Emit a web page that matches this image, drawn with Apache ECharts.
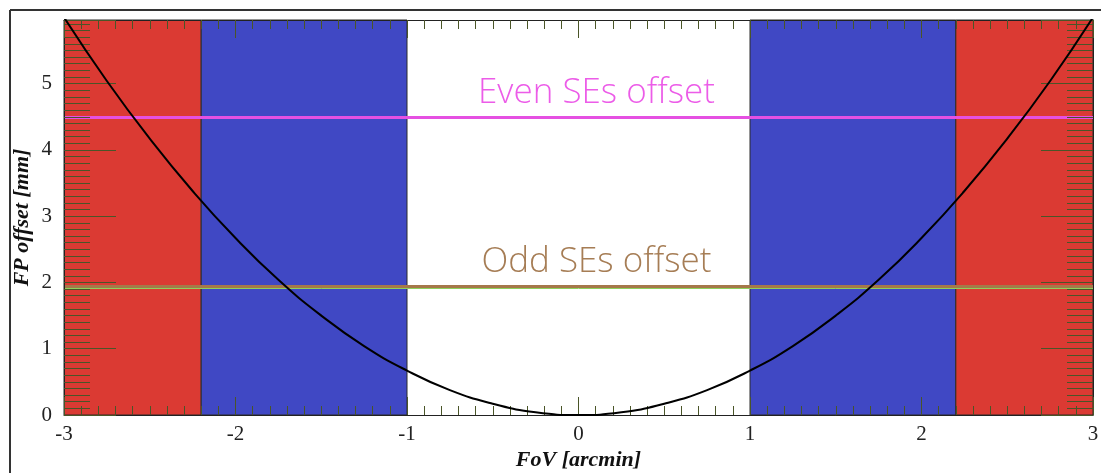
<!DOCTYPE html>
<html>
<head>
<meta charset="utf-8">
<script src="https://cdn.jsdelivr.net/npm/echarts@6/dist/echarts.min.js"></script>
<style>
  html, body { margin: 0; padding: 0; background: #fff; }
  #chart { width: 1101px; height: 473px; }
</style>
</head>
<body>
<div id="chart"></div>
<script>
// Field of view position [arcmin] and focal-plane offset [mm]
const fovX = [-3, -2.75, -2.5, -2.25, -2, -1.75, -1.5, -1.25, -1, -0.75, -0.5, -0.25, 0,
              0.25, 0.5, 0.75, 1, 1.25, 1.5, 1.75, 2, 2.25, 2.5, 2.75, 3];
const fpOffset = [6.0, 5.04, 4.17, 3.38, 2.67, 2.04, 1.5, 1.04, 0.67, 0.375, 0.17, 0.04, 0,
                  0.04, 0.17, 0.375, 0.67, 1.04, 1.5, 2.04, 2.67, 3.38, 4.17, 5.04, 6.0];

// FoV zones: [from, to, kind]
const zones = [
  [-3, -2.2, 'outer'],
  [-2.2, -1, 'inner'],
  [1, 2.2, 'inner'],
  [2.2, 3, 'outer']
];

// Offset levels [mm]
const evenOffset = 4.5;
const oddOffset = 1.95;
const oddOffsetLower = 1.92;
const evenLabel = 'Even SEs offset';
const oddLabel = 'Odd SEs offset';

// Axis ticks
const xTicks = [-3, -2, -1, 0, 1, 2, 3];
const yTicks = [0, 1, 2, 3, 4, 5];

const zoneColor = { outer: '#db3a33', inner: '#4048c4' };
const tickColor = '#4a5528';
const serif = '"Liberation Serif", "DejaVu Serif", serif';

const chart = echarts.init(document.getElementById('chart'), null, { renderer: 'canvas' });

function xAxisDef(pos, showLabels) {
  return {
    type: 'value', position: pos, min: -3, max: 3, interval: 1, z: 10,
    axisLine: { show: true, onZero: false, lineStyle: { color: '#222', width: 1 } },
    axisTick: { show: true, inside: true, length: 18, lineStyle: { color: tickColor, width: 1 } },
    minorTick: { show: true, splitNumber: 10, length: 9, lineStyle: { color: tickColor, width: 1 } },
    splitLine: { show: false },
    axisLabel: {
      show: showLabels, margin: 9, color: '#222', fontFamily: serif, fontSize: 21,
      formatter: v => xTicks.includes(v) ? String(v) : ''
    },
    name: showLabels ? 'FoV [arcmin]' : '',
    nameLocation: 'middle', nameGap: 34, nameMoveOverlap: false,
    nameTextStyle: { fontFamily: serif, fontStyle: 'italic', fontWeight: 'bold', fontSize: 22, color: '#111' }
  };
}

function yAxisDef(pos, showLabels) {
  return {
    type: 'value', position: pos, min: 0, max: 5.96, interval: 1, z: 10,
    axisLine: { show: true, onZero: false, lineStyle: { color: '#222', width: 1 } },
    axisTick: { show: true, inside: true, length: 52, lineStyle: { color: tickColor, width: 1 } },
    minorTick: { show: true, splitNumber: 10, length: 26, lineStyle: { color: tickColor, width: 1 } },
    splitLine: { show: false },
    axisLabel: {
      show: showLabels, margin: 12, color: '#222', fontFamily: serif, fontSize: 21,
      formatter: v => yTicks.includes(v) ? String(v) : ''
    },
    name: showLabels ? 'FP offset [mm]' : '',
    nameLocation: 'middle', nameGap: 31, nameRotate: 90, nameMoveOverlap: false,
    nameTextStyle: { fontFamily: serif, fontStyle: 'italic', fontWeight: 'bold', fontSize: 22, color: '#111' }
  };
}

const labelFont = { fontFamily: '"Open Sans", Lato, sans-serif', fontWeight: 300, fontSize: 35 };

chart.setOption({
  animation: false,
  backgroundColor: '#fff',
  grid: { left: 64, right: 8, top: 20, bottom: 58, containLabel: false, outerBoundsMode: 'none' },
  xAxis: [xAxisDef('bottom', true), xAxisDef('top', false)],
  yAxis: [yAxisDef('left', true), yAxisDef('right', false)],
  graphic: [
    { type: 'line', shape: { x1: 10, y1: 10, x2: 1101, y2: 10 }, style: { stroke: '#333', lineWidth: 2 }, z: 100 },
    { type: 'line', shape: { x1: 10, y1: 10, x2: 10, y2: 473 }, style: { stroke: '#333', lineWidth: 2 }, z: 100 }
  ],
  series: [
    {
      name: 'zones', type: 'line', data: [], z: 1,
      markArea: {
        silent: true,
        data: zones.map(([a, b, kind]) => [
          { xAxis: a, itemStyle: { color: zoneColor[kind], borderColor: '#2a2a2a', borderWidth: 1 } },
          { xAxis: b }
        ])
      }
    },
    {
      name: 'levels', type: 'line', data: [], z: 3,
      markLine: {
        silent: true, symbol: 'none', animation: false,
        data: [
          {
            yAxis: evenOffset,
            lineStyle: { color: '#e550e2', width: 3, type: 'solid' },
            label: {
              show: true, formatter: evenLabel, position: 'insideMiddleTop',
              distance: 6, offset: [18, 0], color: '#ec5ce8', ...labelFont
            }
          },
          {
            yAxis: oddOffset,
            lineStyle: { color: '#a5784a', width: 3, type: 'solid' },
            label: {
              show: true, formatter: oddLabel, position: 'insideMiddleTop',
              distance: 6, offset: [18, 0], color: '#a67d55', ...labelFont
            }
          },
          {
            yAxis: oddOffsetLower,
            lineStyle: { color: '#8fd05c', width: 1, type: 'solid' },
            label: { show: false }
          }
        ]
      }
    },
    {
      name: 'FP offset', type: 'line', z: 20,
      data: fovX.map((x, i) => [x, fpOffset[i]]),
      smooth: true, showSymbol: false, clip: true,
      lineStyle: { color: '#000', width: 2 }
    }
  ]
});
</script>
</body>
</html>
